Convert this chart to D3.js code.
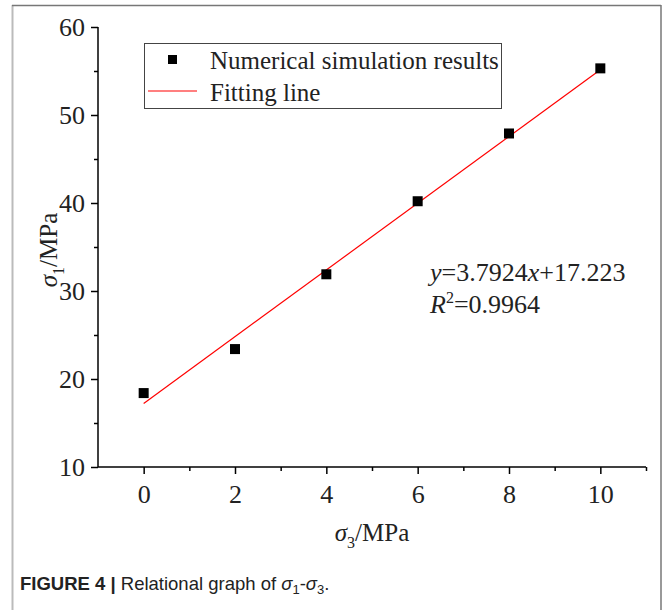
<!DOCTYPE html>
<html>
<head>
<meta charset="utf-8">
<script src="https://cdn.jsdelivr.net/npm/d3@7"></script>
<style>
  body { margin: 0; background: #fff; }
  text { font-family: "Liberation Serif", "Times New Roman", serif; }
</style>
</head>
<body>
<div id="container"></div>
<script>
// Data
var sigma3 = [0, 2, 4, 6, 8, 10];
var sigma1 = [18.4, 23.4, 31.9, 40.2, 47.9, 55.3];
var slope = 3.7924, intercept = 17.223;
var xTicks = [0, 2, 4, 6, 8, 10];
var yTicks = [10, 20, 30, 40, 50, 60];

var width = 664, height = 610;
var fs = "25px";
var svg = d3.select("#container").append("svg")
    .attr("width", width).attr("height", height);

// outer frame of the figure
svg.append("line").attr("x1", 12.5).attr("x2", 12.5).attr("y1", 5).attr("y2", 610)
    .attr("stroke", "#bbb").attr("stroke-width", 2);
svg.append("line").attr("x1", 12).attr("x2", 661).attr("y1", 5.5).attr("y2", 5.5)
    .attr("stroke", "#777").attr("stroke-width", 1.5);
svg.append("line").attr("x1", 661).attr("x2", 661).attr("y1", 5).attr("y2", 610)
    .attr("stroke", "#777").attr("stroke-width", 1.5);

// Scales
var x = d3.scaleLinear().domain([-1, 11]).range([98, 646]);
var y = d3.scaleLinear().domain([10, 60]).range([467, 27]);

// Axes
var xAxis = svg.append("g").attr("transform", "translate(0,467)")
    .call(d3.axisBottom(x).tickValues(d3.range(-1, 12, 1)).tickSize(7)
        .tickFormat(function(d) { return xTicks.indexOf(d) >= 0 ? d : ""; }));
xAxis.selectAll(".tick line").attr("y2", function(d) { return xTicks.indexOf(d) >= 0 ? 7 : 4; });
xAxis.selectAll(".tick").filter(function(d) { return d === -1; }).remove();

var yAxis = svg.append("g").attr("transform", "translate(98,0)")
    .call(d3.axisLeft(y).tickValues(d3.range(10, 61, 5)).tickSize(7)
        .tickFormat(function(d) { return yTicks.indexOf(d) >= 0 ? d : ""; }));
yAxis.selectAll(".tick line").attr("x2", function(d) { return yTicks.indexOf(d) >= 0 ? -7 : -4; });

[xAxis, yAxis].forEach(function(a) {
  a.attr("font-size", null).attr("font-family", null);
  a.select(".domain").attr("stroke", "#000").attr("stroke-width", 1.5);
  a.selectAll(".tick line").attr("stroke", "#000").attr("stroke-width", 1.5);
  a.selectAll(".tick text").attr("fill", "#222")
      .style("font-family", "'Liberation Serif', serif").style("font-size", "26px");
});
xAxis.select(".domain").attr("d", "M98,0H646");
yAxis.select(".domain").attr("d", "M0,27V467");
xAxis.selectAll(".tick text").attr("y", 18);
yAxis.selectAll(".tick text").attr("x", -13);

// Fitting line
svg.append("line")
    .attr("x1", x(0)).attr("y1", y(intercept))
    .attr("x2", x(10)).attr("y2", y(intercept + slope * 10))
    .attr("stroke", "#ff0000").attr("stroke-width", 1.2);

// Points
var ms = 10;
svg.selectAll(".pt").data(sigma3).enter().append("rect")
    .attr("class", "pt")
    .attr("x", function(d) { return x(d) - ms / 2; })
    .attr("y", function(d, i) { return y(sigma1[i]) - ms / 2; })
    .attr("width", ms).attr("height", ms)
    .attr("fill", "#000");

// Legend
svg.append("rect").attr("x", 144.5).attr("y", 43.5).attr("width", 357).attr("height", 65)
    .attr("fill", "#fff").attr("stroke", "#444").attr("stroke-width", 1);
svg.append("rect").attr("x", 168).attr("y", 55).attr("width", 9).attr("height", 9).attr("fill", "#000");
svg.append("line").attr("x1", 148).attr("x2", 197).attr("y1", 91).attr("y2", 91)
    .attr("stroke", "#ff0000").attr("stroke-width", 1.2);
svg.append("text").attr("x", 210).attr("y", 69).style("font-size", fs).attr("fill", "#222")
    .text("Numerical simulation results");
svg.append("text").attr("x", 210).attr("y", 101).style("font-size", fs).attr("fill", "#222")
    .text("Fitting line");

// Equation
var eq = svg.append("text").attr("x", 430).attr("y", 281).style("font-size", "26px").attr("fill", "#222");
eq.append("tspan").style("font-style", "italic").text("y");
eq.append("tspan").text("=3.7924");
eq.append("tspan").style("font-style", "italic").text("x");
eq.append("tspan").text("+17.223");
var r2 = svg.append("text").attr("x", 430).attr("y", 313).style("font-size", "26px").attr("fill", "#222");
r2.append("tspan").style("font-style", "italic").text("R");
r2.append("tspan").attr("dy", -10).style("font-size", "16px").text("2");
r2.append("tspan").attr("dy", 10).text("=0.9964");

// Axis titles
var yl = svg.append("text").attr("transform", "translate(57,250) rotate(-90)")
    .attr("text-anchor", "middle").style("font-size", fs).attr("fill", "#222");
yl.append("tspan").style("font-style", "italic").text("σ");
yl.append("tspan").attr("dy", 7).style("font-size", "16px").text("1");
yl.append("tspan").attr("dy", -7).text("/MPa");

var xl = svg.append("text").attr("x", 372).attr("y", 541)
    .attr("text-anchor", "middle").style("font-size", fs).attr("fill", "#222");
xl.append("tspan").style("font-style", "italic").text("σ");
xl.append("tspan").attr("dy", 7).style("font-size", "16px").text("3");
xl.append("tspan").attr("dy", -7).text("/MPa");

// Caption
var cap = svg.append("text").attr("x", 20).attr("y", 590)
    .style("font-family", "'Liberation Sans', Arial, sans-serif").style("font-size", "18.5px").attr("fill", "#222");
cap.append("tspan").style("font-weight", "bold").text("FIGURE 4 | ");
cap.append("tspan").text("Relational graph of ");
cap.append("tspan").style("font-style", "italic").text("σ");
cap.append("tspan").attr("dy", 4).style("font-size", "13px").text("1");
cap.append("tspan").attr("dy", -4).text("-");
cap.append("tspan").style("font-style", "italic").text("σ");
cap.append("tspan").attr("dy", 4).style("font-size", "13px").text("3");
cap.append("tspan").attr("dy", -4).text(".");
</script>
</body>
</html>
